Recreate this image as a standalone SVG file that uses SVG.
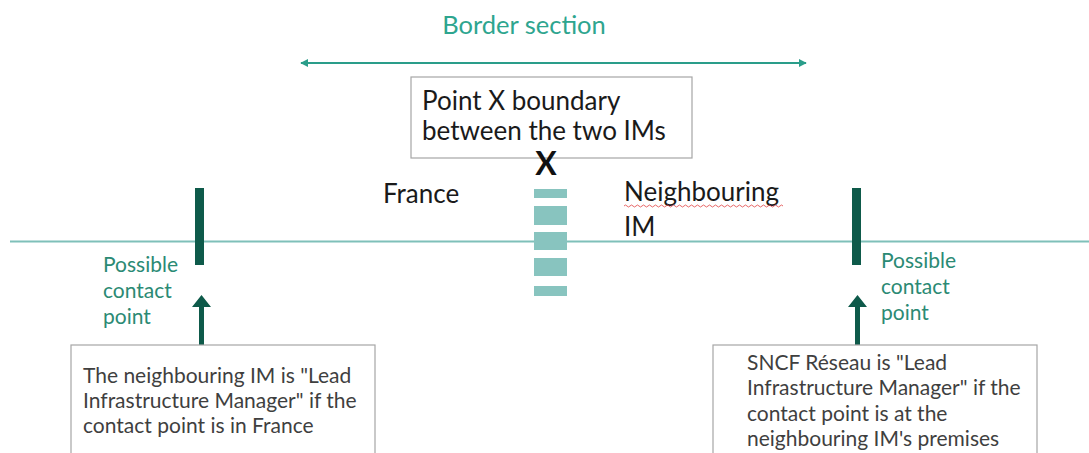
<svg xmlns="http://www.w3.org/2000/svg" width="1089" height="453" viewBox="0 0 1089 453">
  <style>
    text { font-family: Lato, "Open Sans", "Liberation Sans", sans-serif; }
    .title { font-size: 25.5px; fill: #2ea58f; }
    .label { font-size: 26px; fill: #1a1a1a; }
    .green { font-size: 21px; fill: #2b8a74; }
    .note { font-size: 21px; fill: #3f3f3f; }
    .box { fill: #ffffff; stroke: #a6a6a6; stroke-width: 1.2; }
    .bar { fill: #0e5a4a; }
    .seg { fill: #88c4bf; }
  </style>
  <defs>
    <marker id="tealHead" viewBox="0 0 10 10" refX="9" refY="5" markerWidth="4" markerHeight="4" orient="auto-start-reverse">
      <path d="M0,0 L10,5 L0,10 Z" fill="#2a9d8a"/>
    </marker>
  </defs>

  <!-- track line -->
  <line x1="10" y1="241.5" x2="1089" y2="241.5" stroke="#7fc0b9" stroke-width="2"/>

  <!-- border section span -->
  <g id="border-section">
    <text class="title" x="524" y="34" text-anchor="middle">Border section</text>
  </g>

  <g id="connectors">
    <line x1="301" y1="63" x2="806" y2="63" stroke="#2a9d8a" stroke-width="2" marker-start="url(#tealHead)" marker-end="url(#tealHead)"/>
    <!-- upward arrows from the notes to the contact points -->
    <path class="bar" d="M199,345 V307 H192 L201.5,295 L211,307 H204 V345 Z"/>
    <path class="bar" d="M855,345 V307 H848 L857.5,295 L867,307 H860 V345 Z"/>
  </g>

  <g id="boundary-box">
    <rect class="box" x="411" y="77" width="281" height="81" stroke="#404040"/>
    <text class="label" x="422" y="110">Point X boundary</text>
    <text class="label" x="422" y="140">between the two IMs</text>
  </g>

  <g id="point-x">
    <text x="546" y="175" text-anchor="middle" font-family="Liberation Sans, sans-serif" font-weight="bold" font-size="32" fill="#111">X</text>
    <rect class="seg" x="534" y="189" width="33" height="9"/>
    <rect class="seg" x="534" y="206" width="33" height="19"/>
    <rect class="seg" x="534" y="232" width="33" height="18"/>
    <rect class="seg" x="534" y="258" width="33" height="18"/>
    <rect class="seg" x="534" y="286" width="33" height="10"/>
  </g>

  <g id="france">
    <text class="label" x="383" y="203">France</text>
  </g>

  <g id="neighbouring-im">
    <text class="label" x="624" y="201">Neighbouring</text>
    <path d="M624,206 q1.5,-2 3,0 t3,0 t3,0 t3,0 t3,0 t3,0 t3,0 t3,0 t3,0 t3,0 t3,0 t3,0 t3,0 t3,0 t3,0 t3,0 t3,0 t3,0 t3,0 t3,0 t3,0 t3,0 t3,0 t3,0 t3,0 t3,0 t3,0 t3,0 t3,0 t3,0 t3,0 t3,0 t3,0 t3,0 t3,0 t3,0 t3,0 t3,0 t3,0 t3,0 t3,0 t3,0 t3,0 t3,0 t3,0 t3,0 t3,0 t3,0 t3,0 t3,0 t3,0 t3,0 t3,0" fill="none" stroke="#e04040" stroke-width="0.8"/>
    <text class="label" x="624" y="236">IM</text>
  </g>

  <g id="contact-left">
    <rect class="bar" x="195" y="188" width="9" height="77"/>
    <text class="green" x="103" y="272">Possible</text>
    <text class="green" x="103" y="298">contact</text>
    <text class="green" x="103" y="324">point</text>
  </g>

  <g id="contact-right">
    <rect class="bar" x="852" y="188" width="9" height="77"/>
    <text class="green" x="881" y="268">Possible</text>
    <text class="green" x="881" y="294">contact</text>
    <text class="green" x="881" y="320">point</text>
  </g>

  <g id="note-left">
    <rect class="box" x="71" y="345" width="304" height="120"/>
    <text class="note" x="83" y="383">The neighbouring IM is "Lead</text>
    <text class="note" x="83" y="408">Infrastructure Manager" if the</text>
    <text class="note" x="83" y="433">contact point is in France</text>
  </g>

  <g id="note-right">
    <rect class="box" x="713" y="345" width="324" height="120"/>
    <text class="note" x="747" y="370">SNCF Réseau is "Lead</text>
    <text class="note" x="747" y="395">Infrastructure Manager" if the</text>
    <text class="note" x="747" y="421">contact point is at the</text>
    <text class="note" x="747" y="446">neighbouring IM's premises</text>
  </g>
</svg>
